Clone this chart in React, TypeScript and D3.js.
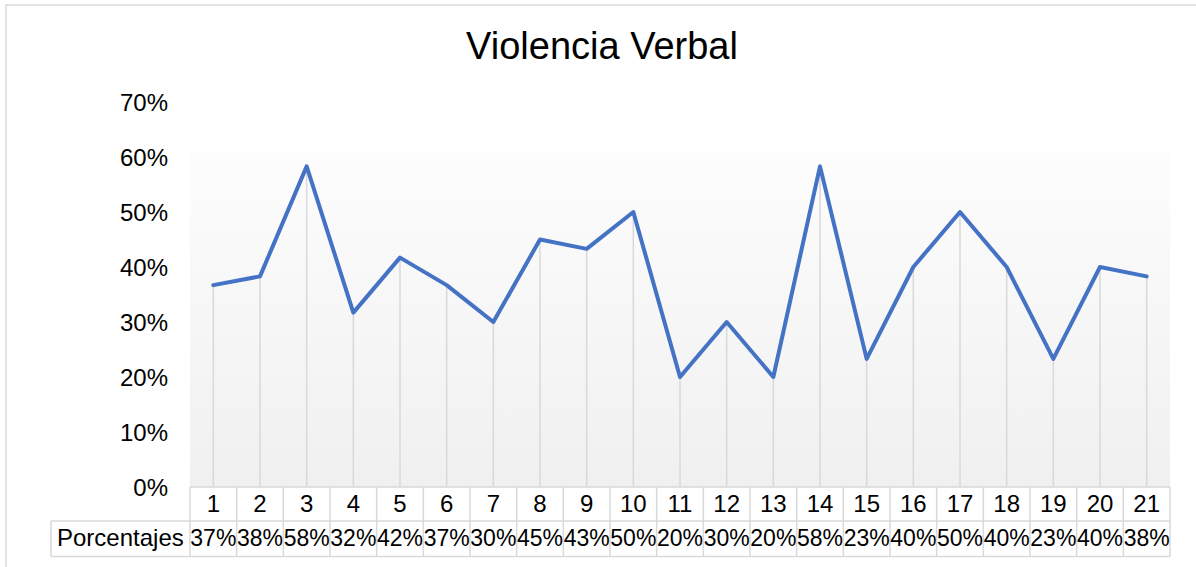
import React from 'react';
import * as d3 from 'd3';

const categories = ['1', '2', '3', '4', '5', '6', '7', '8', '9', '10', '11', '12', '13', '14', '15', '16', '17', '18', '19', '20', '21'];
const porcentajes = [0.367, 0.383, 0.583, 0.317, 0.417, 0.367, 0.3, 0.45, 0.433, 0.5, 0.2, 0.3, 0.2, 0.583, 0.233, 0.4, 0.5, 0.4, 0.233, 0.4, 0.383];
const yTicks = [0, 0.1, 0.2, 0.3, 0.4, 0.5, 0.6, 0.7];
const seriesName = 'Porcentajes';
const title = 'Violencia Verbal';

const W = 1196;
const H = 567;
const FONT = 'Arial, "Liberation Sans", Helvetica, sans-serif';
const BORDER = '#d9d9d9';

export default function App() {
  // scales
  const x = d3.scaleBand<string>().domain(categories).range([190, 1170]).padding(0);
  const y = d3.scaleLinear().domain([0, 0.7]).range([487, 102]);
  const cx = (c: string) => (x(c) as number) + x.bandwidth() / 2;
  const pct = d3.format('.0%');

  const line = d3.line<number>()
    .x((_, i) => cx(categories[i]))
    .y(d => y(d));

  const rowTop = y(0);
  const rowMid = 521;
  const rowBot = 556.5;

  return (
    <svg width={W} height={H} style={{ position: 'absolute', left: 0, top: 0, display: 'block' }} fontFamily={FONT}>
      <defs>
        <linearGradient id="plotBg" x1="0" y1="0" x2="0" y2="1">
          <stop offset="0" stopColor="#fdfdfd" />
          <stop offset="1" stopColor="#f0f0f0" />
        </linearGradient>
      </defs>
      <rect x={0} y={0} width={W} height={H} fill="#fff" />
      {/* chart border */}
      <rect x={6} y={5} width={W + 20} height={H + 20} fill="none" stroke={BORDER} strokeWidth={1.5} />

      <text x={602} y={59} textAnchor="middle" fontSize={38} fill="#000">{title}</text>

      {/* plot area */}
      <rect x={190} y={151} width={980} height={rowTop - 151} fill="url(#plotBg)" />

      {/* y axis labels */}
      {yTicks.map(t => (
        <text key={t} x={168} y={y(t) + 8.5} textAnchor="end" fontSize={24} fill="#000">{pct(t)}</text>
      ))}

      {/* drop lines */}
      {porcentajes.map((v, i) => (
        <line key={i} x1={cx(categories[i])} x2={cx(categories[i])} y1={y(v)} y2={rowTop}
          stroke={BORDER} strokeWidth={1.5} />
      ))}

      <path d={line(porcentajes) as string} fill="none" stroke="#4472C4" strokeWidth={4}
        strokeLinejoin="round" strokeLinecap="round" />

      {/* data table */}
      <g stroke={BORDER} strokeWidth={1.5} fill="none">
        <line x1={190} x2={1170} y1={rowTop} y2={rowTop} />
        <line x1={51} x2={1170} y1={rowMid} y2={rowMid} />
        <line x1={51} x2={1170} y1={rowBot} y2={rowBot} />
        <line x1={51} x2={51} y1={rowMid} y2={rowBot} />
        {categories.map(c => (
          <line key={c} x1={x(c) as number} x2={x(c) as number} y1={rowTop} y2={rowBot} />
        ))}
        <line x1={1170} x2={1170} y1={rowTop} y2={rowBot} />
      </g>
      {categories.map(c => (
        <text key={c} x={cx(c)} y={512} textAnchor="middle" fontSize={24} fill="#000">{c}</text>
      ))}
      <text x={57} y={546} fontSize={24} fill="#000">{seriesName}</text>
      {porcentajes.map((v, i) => (
        <text key={i} x={cx(categories[i])} y={546} textAnchor="middle" fontSize={23} fill="#000">{pct(v)}</text>
      ))}
    </svg>
  );
}
